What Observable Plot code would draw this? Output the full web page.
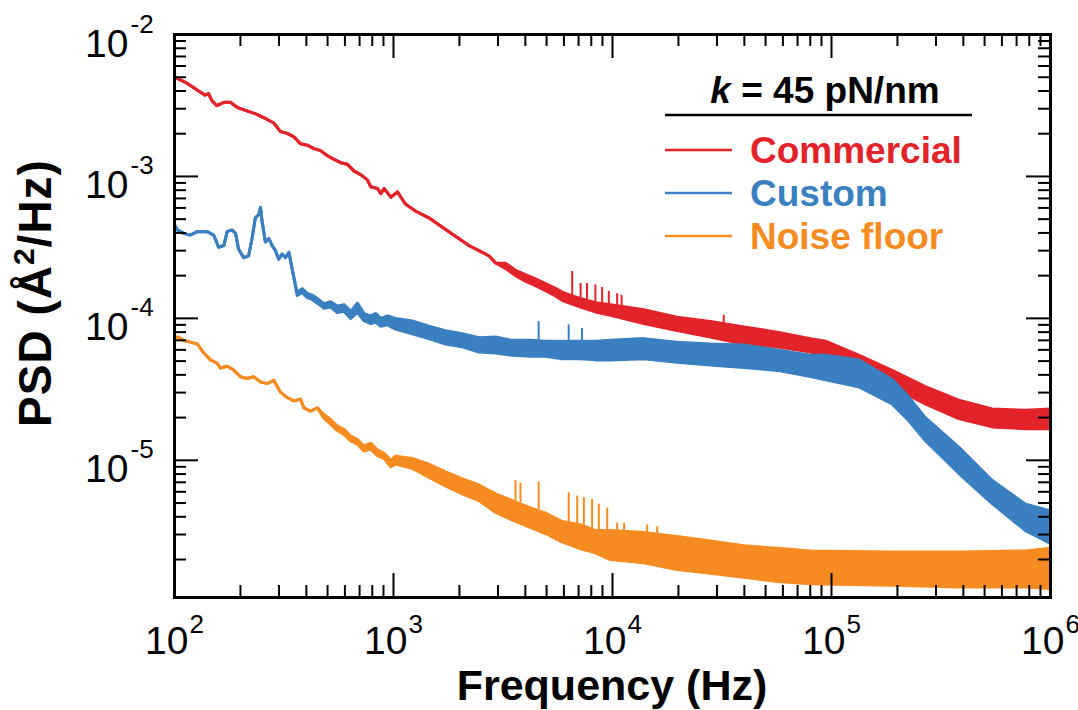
<!DOCTYPE html>
<html>
<head>
<meta charset="utf-8">
<script src="https://cdn.jsdelivr.net/npm/d3@7"></script>
<script src="https://cdn.jsdelivr.net/npm/@observablehq/plot@0.6"></script>
<style>
  html, body { margin: 0; padding: 0; background: #fff; }
  #chart svg { display: block; }
</style>
</head>
<body>
<div id="chart"></div>
<script>
// ---- Power spectral density traces (frequency in Hz, PSD in Å²/Hz) ----

// Commercial cantilever: single trace at low frequency, noisy band above ~3 kHz
const commercialLineFreq = [100,114,131,138,143,148,156,168,180,193,214,238,265,284,305,327,351,376,404,433,465,499,535,574,615,661,708,760,787,845,875,906,972,1043,1081,1135,1259,1449,1610,1791,1986,2208,2455,2725,2923];
const commercialLineValue = [5.0e-3,4.54e-3,3.94e-3,3.73e-3,3.84e-3,3.43e-3,3.15e-3,3.33e-3,3.33e-3,3.07e-3,2.90e-3,2.74e-3,2.52e-3,2.38e-3,2.07e-3,2.01e-3,1.90e-3,1.70e-3,1.66e-3,1.57e-3,1.52e-3,1.40e-3,1.32e-3,1.25e-3,1.22e-3,1.09e-3,1.03e-3,9.46e-4,8.45e-4,8.22e-4,7.56e-4,8.22e-4,7.14e-4,7.78e-4,7.14e-4,6.38e-4,5.71e-4,5.11e-4,4.56e-4,4.08e-4,3.65e-4,3.26e-4,3.00e-4,2.76e-4,2.46e-4];
const commercialBandFreq = [3246,3606,4006,4448,4943,5495,5888,6546,7261,8356,9790,13900,19700,28000,39800,56500,80200,93900,133000,189000,268000,381000,542000,769000,1000000];
const commercialBandLow  = [2.25e-4,2.0e-4,1.83e-4,1.7e-4,1.57e-4,1.44e-4,1.34e-4,1.26e-4,1.19e-4,1.11e-4,1.05e-4,9.2e-5,8.2e-5,7.4e-5,6.6e-5,6.3e-5,5.8e-5,5.4e-5,4.2e-5,3.3e-5,2.5e-5,1.97e-5,1.72e-5,1.67e-5,1.67e-5];
const commercialBandHigh = [2.45e-4,2.18e-4,2.03e-4,1.9e-4,1.76e-4,1.63e-4,1.53e-4,1.44e-4,1.37e-4,1.29e-4,1.25e-4,1.15e-4,1.02e-4,9.5e-5,8.7e-5,8.0e-5,7.2e-5,6.9e-5,5.5e-5,4.3e-5,3.3e-5,2.65e-5,2.3e-5,2.25e-5,2.3e-5];
const commercialSpikeFreq = [6546,7150,7650,8356,8970,9617,10500,11000,32200];
const commercialSpikeBase = [1.45e-4,1.4e-4,1.36e-4,1.3e-4,1.28e-4,1.26e-4,1.23e-4,1.22e-4,9.2e-5];
const commercialSpikeTop  = [2.14e-4,1.76e-4,1.76e-4,1.72e-4,1.65e-4,1.55e-4,1.49e-4,1.45e-4,1.05e-4];

// Custom cantilever
const customLineFreq = [100,103,110,118,127,141,151,159,168,174,183,190,196,207,218,226,234,243,247,251,260,270,279,289,299,310,321,333,345];
const customLineValue = [4.56e-4,4.20e-4,3.97e-4,3.86e-4,4.08e-4,4.08e-4,3.86e-4,3.17e-4,3.26e-4,4.08e-4,4.20e-4,3.97e-4,3.08e-4,2.68e-4,2.76e-4,3.65e-4,5.11e-4,5.40e-4,6.04e-4,4.83e-4,3.45e-4,3.65e-4,3.26e-4,3.00e-4,2.61e-4,2.84e-4,2.68e-4,2.92e-4,2.20e-4];
const customBandFreq = [363,383,404,425,449,481,516,554,594,638,684,734,787,830,875,939,1021,1217,1449,1727,2061,2455,2923,3483,4237,4943,5888,7161,8356,9790,13900,19700,28000,39800,56500,80200,93900,133000,189000,225000,268000,381000,542000,769000,1000000];
const customBandLow  = [1.45e-4,1.52e-4,1.40e-4,1.36e-4,1.28e-4,1.18e-4,1.20e-4,1.10e-4,1.12e-4,1.0e-4,1.1e-4,9.6e-5,9.2e-5,9.4e-5,8.8e-5,9.0e-5,8.4e-5,7.8e-5,7.2e-5,6.6e-5,6.3e-5,5.8e-5,5.7e-5,5.5e-5,5.4e-5,5.4e-5,5.2e-5,5.2e-5,5.1e-5,5.1e-5,5.2e-5,4.9e-5,4.7e-5,4.5e-5,4.3e-5,3.9e-5,3.7e-5,3.3e-5,2.5e-5,1.91e-5,1.38e-5,8.1e-6,4.95e-6,3.2e-6,2.6e-6];
const customBandHigh = [1.53e-4,1.62e-4,1.50e-4,1.46e-4,1.38e-4,1.27e-4,1.31e-4,1.22e-4,1.25e-4,1.12e-4,1.28e-4,1.08e-4,1.04e-4,1.08e-4,1.0e-4,1.04e-4,1.0e-4,9.6e-5,8.8e-5,8.2e-5,7.8e-5,7.3e-5,7.4e-5,7.0e-5,7.0e-5,6.9e-5,6.9e-5,6.9e-5,6.9e-5,7.0e-5,7.2e-5,6.8e-5,6.6e-5,6.5e-5,6.0e-5,5.5e-5,5.5e-5,5.1e-5,3.7e-5,2.8e-5,2.0e-5,1.24e-5,7.2e-6,4.9e-6,4.4e-6];
const customSpikeFreq = [4600,6310,7260];
const customSpikeBase = [7.0e-5,6.9e-5,6.9e-5];
const customSpikeTop  = [9.5e-5,9.0e-5,8.5e-5];

// Noise floor
const noiseLineFreq = [100,103,110,118,127,136,146,156,162,174,186,200,214,230,247,265,284,305,327,351,376,390,418,449];
const noiseLineValue = [7.2e-5,7.4e-5,7.0e-5,6.8e-5,6.6e-5,5.7e-5,5.1e-5,4.85e-5,4.47e-5,4.6e-5,4.34e-5,3.88e-5,3.77e-5,3.88e-5,3.57e-5,3.47e-5,3.66e-5,3.01e-5,2.77e-5,2.62e-5,2.70e-5,2.34e-5,2.22e-5,2.34e-5];
const noiseBandFreq = [481,516,554,594,638,684,734,787,845,906,972,1021,1217,1449,1727,2061,2455,2923,3483,4237,4943,5888,7161,8356,9790,13900,19700,28000,39800,56500,80200,189000,381000,769000,1000000];
const noiseBandLow  = [1.98e-5,1.8e-5,1.62e-5,1.52e-5,1.37e-5,1.3e-5,1.16e-5,1.2e-5,1.08e-5,1.03e-5,9.0e-6,9.4e-6,8.8e-6,7.6e-6,6.6e-6,5.8e-6,5.2e-6,4.3e-6,3.8e-6,3.35e-6,3.05e-6,2.66e-6,2.38e-6,2.23e-6,2.0e-6,1.9e-6,1.7e-6,1.6e-6,1.5e-6,1.4e-6,1.35e-6,1.32e-6,1.28e-6,1.28e-6,1.25e-6];
const noiseBandHigh = [2.1e-5,1.94e-5,1.74e-5,1.65e-5,1.48e-5,1.4e-5,1.26e-5,1.32e-5,1.18e-5,1.12e-5,1.0e-5,1.07e-5,1.03e-5,9.4e-6,8.3e-6,7.4e-6,6.7e-6,5.8e-6,5.2e-6,4.6e-6,4.25e-6,3.7e-6,3.5e-6,3.2e-6,3.2e-6,3.1e-6,2.9e-6,2.7e-6,2.5e-6,2.4e-6,2.3e-6,2.26e-6,2.26e-6,2.3e-6,2.4e-6];
const noiseSpikeFreq = [3606,3800,4600,6310,6900,7400,8070,8660,9460,10500,11300,14400,16000];
const noiseSpikeBase = [5.1e-6,5.0e-6,4.5e-6,3.6e-6,3.5e-6,3.45e-6,3.3e-6,3.2e-6,3.2e-6,3.15e-6,3.15e-6,3.1e-6,3.05e-6];
const noiseSpikeTop  = [7.2e-6,6.9e-6,7.0e-6,5.9e-6,5.6e-6,5.45e-6,5.3e-6,4.9e-6,4.6e-6,3.6e-6,3.6e-6,3.5e-6,3.4e-6];

// Axis decades (exponents) and legend
const xExponents = [2, 3, 4, 5, 6];
const yExponents = [-2, -3, -4, -5];
const seriesNames = ["Commercial", "Custom", "Noise floor"];
const seriesColors = ["#e2232a", "#3a80c1", "#f68b21"];
const legendTitle = "45 pN/nm";

// ---- build tables ----
function trace(lineF, lineV, bandF, bandLo, bandHi) {
  const a = lineF.map((f, i) => ({f, lo: lineV[i], hi: lineV[i]}));
  const b = bandF.map((f, i) => ({f, lo: bandLo[i], hi: bandHi[i]}));
  return a.concat(b);
}
function spikes(f, base, top) {
  return f.map((v, i) => ({f: v, base: base[i], top: top[i]}));
}
const traces = [
  {rows: trace(commercialLineFreq, commercialLineValue, commercialBandFreq, commercialBandLow, commercialBandHigh),
   spikes: spikes(commercialSpikeFreq, commercialSpikeBase, commercialSpikeTop), color: seriesColors[0]},
  {rows: trace(customLineFreq, customLineValue, customBandFreq, customBandLow, customBandHigh),
   spikes: spikes(customSpikeFreq, customSpikeBase, customSpikeTop), color: seriesColors[1]},
  {rows: trace(noiseLineFreq, noiseLineValue, noiseBandFreq, noiseBandLow, noiseBandHigh),
   spikes: spikes(noiseSpikeFreq, noiseSpikeBase, noiseSpikeTop), color: seriesColors[2]}
];

// ---- layout ----
const W = 1078, H = 710;
const M = {top: 34, right: 28, bottom: 113, left: 174};
const frameW = W - M.left - M.right;
const frameH = H - M.top - M.bottom;
const majorLen = 24, minorLen = 12;
const tickFont = "'Liberation Sans', Arial, Helvetica, sans-serif";

const xMajor = xExponents.map(e => 10 ** e);
const xMinor = [];
for (const e of xExponents.slice(0, -1)) for (let k = 2; k <= 9; k++) xMinor.push(k * 10 ** e);
const yMajor = yExponents.map(e => 10 ** e);
const yMinor = [];
for (const e of [-3, -4, -5, -6]) for (let k = 2; k <= 9; k++) yMinor.push(k * 10 ** e);

const traceMarks = traces.flatMap(t => [
  Plot.areaY(t.rows, {x: "f", y1: "lo", y2: "hi", fill: t.color}),
  Plot.line(t.rows, {x: "f", y: "lo", stroke: t.color, strokeWidth: 3, strokeLinejoin: "round"}),
  Plot.line(t.rows, {x: "f", y: "hi", stroke: t.color, strokeWidth: 3, strokeLinejoin: "round"}),
  Plot.ruleX(t.spikes, {x: "f", y1: "base", y2: "top", stroke: t.color, strokeWidth: 2})
]);

const tickStyle = {stroke: "#000", strokeWidth: 2};
const plot = Plot.plot({
  width: W, height: H,
  marginTop: M.top, marginRight: M.right, marginBottom: M.bottom, marginLeft: M.left,
  x: {type: "log", domain: [1e2, 1e6], axis: null},
  y: {type: "log", domain: [1.08e-6, 1e-2], axis: null},
  style: {background: "#fff", fontFamily: tickFont, overflow: "visible"},
  marks: [
    ...traceMarks,
    // inward ticks on all four sides
    Plot.tickX(xMajor, {x: d => d, insetTop: frameH - majorLen, ...tickStyle}),
    Plot.tickX(xMajor, {x: d => d, insetBottom: frameH - majorLen, ...tickStyle}),
    Plot.tickX(xMinor, {x: d => d, insetTop: frameH - minorLen, ...tickStyle}),
    Plot.tickX(xMinor, {x: d => d, insetBottom: frameH - minorLen, ...tickStyle}),
    Plot.tickY(yMajor, {y: d => d, insetRight: frameW - majorLen, ...tickStyle}),
    Plot.tickY(yMajor, {y: d => d, insetLeft: frameW - majorLen, ...tickStyle}),
    Plot.tickY(yMinor, {y: d => d, insetRight: frameW - minorLen, ...tickStyle}),
    Plot.tickY(yMinor, {y: d => d, insetLeft: frameW - minorLen, ...tickStyle}),
    Plot.frame({stroke: "#000", strokeWidth: 3}),
    // x tick labels: 10 with superscript exponent
    Plot.text(xExponents, {x: d => 10 ** d, text: () => "10", frameAnchor: "bottom",
      textAnchor: "end", lineAnchor: "bottom", dx: 14, dy: 56, fontSize: 39, fill: "#000"}),
    Plot.text(xExponents, {x: d => 10 ** d, text: d => String(d), frameAnchor: "bottom",
      textAnchor: "start", lineAnchor: "bottom", dx: 15, dy: 35, fontSize: 26, fill: "#000"}),
    // y tick labels
    Plot.text(yExponents, {y: d => 10 ** d, text: () => "10", frameAnchor: "left",
      textAnchor: "end", lineAnchor: "bottom", dx: -46, dy: 22, fontSize: 39, fill: "#000"}),
    Plot.text(yExponents, {y: d => 10 ** d, text: d => "-" + Math.abs(d), frameAnchor: "left",
      textAnchor: "start", lineAnchor: "bottom", dx: -44, dy: -2, fontSize: 26, fill: "#000"})
  ]
});

// ---- axis titles and legend ----
const svg = d3.select(plot);
const bold = "'Liberation Sans', Arial, Helvetica, sans-serif";

svg.append("text")
  .attr("x", M.left + frameW / 2).attr("y", 700)
  .attr("text-anchor", "middle")
  .attr("font-family", bold).attr("font-weight", "bold").attr("font-size", 43)
  .attr("fill", "#000")
  .text("Frequency (Hz)");

const yt = svg.append("text")
  .attr("transform", "translate(51,293) rotate(-90)")
  .attr("text-anchor", "middle")
  .attr("font-family", bold).attr("font-weight", "bold").attr("font-size", 46)
  .attr("letter-spacing", 1)
  .attr("fill", "#000");
yt.append("tspan").text("PSD (Å");
yt.append("tspan").attr("font-size", 30).attr("dy", -17).text("2");
yt.append("tspan").attr("dy", 17).text("/Hz)");

const lg = svg.append("g").attr("font-family", bold).attr("font-weight", "bold");
const kt = lg.append("text").attr("x", 825).attr("y", 103).attr("text-anchor", "middle")
  .attr("font-size", 37).attr("fill", "#000");
kt.append("tspan").attr("font-style", "italic").text("k");
kt.append("tspan").text(" = " + legendTitle);
lg.append("line").attr("x1", 665).attr("x2", 972).attr("y1", 115).attr("y2", 115)
  .attr("stroke", "#000").attr("stroke-width", 2.5);

const rowsY = [150, 193, 236];
seriesNames.forEach((name, i) => {
  lg.append("line").attr("x1", 665).attr("x2", 732).attr("y1", rowsY[i]).attr("y2", rowsY[i])
    .attr("stroke", seriesColors[i]).attr("stroke-width", 2.5);
  lg.append("text").attr("x", 750).attr("y", rowsY[i] + 13).attr("text-anchor", "start")
    .attr("font-size", 37).attr("fill", seriesColors[i]).text(name);
});

document.getElementById("chart").appendChild(plot);
</script>
</body>
</html>
